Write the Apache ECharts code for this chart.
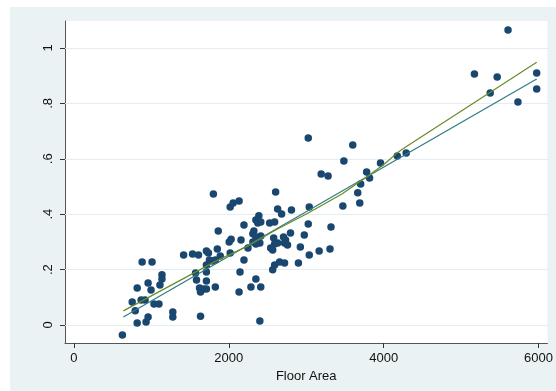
<!DOCTYPE html>
<html><head><meta charset="utf-8">
<script src="https://cdn.jsdelivr.net/npm/echarts@6/dist/echarts.min.js"></script>
<style>html,body{margin:0;padding:0;background:#fff}#c{width:556px;height:391px}</style>
</head><body><div id="c"></div>
<script>
// Scatter: floor area vs value
const floorArea = [626,753,792,817,881,1009,958,996,868,919,817,932,958,1034,1098,1111,1137,1137,1277,1277,
1417,1532,1609,1571,1583,1622,1673,1711,1635,1635,1711,1737,1711,1711,1711,1826,1801,1864,1750,1788,1826,1890,1852,
2018,2056,2133,2005,2030,2158,2196,2145,2196,2133,2248,2286,2350,2413,2401,2018,2324,2311,2350,2413,2311,2401,2350,
2388,2350,2375,2413,2528,2592,2605,2631,2682,2580,2592,2541,2567,2592,2656,2720,2567,2707,2733,2720,2758,2797,2975,
2924,2631,3039,3167,3307,2899,2809,3039,3026,3320,3026,3601,3486,3193,3282,3780,3818,3703,3665,3691,3473,3959,4176,
4291,5172,5466,5376,5606,5734,5976,5976];
const yValue = [-0.036,0.083,0.051,0.134,0.227,0.227,0.152,0.126,0.090,0.090,0.007,0.011,0.029,0.076,0.076,0.144,0.181,0.166,0.047,0.029,
0.253,0.256,0.253,0.188,0.162,0.134,0.130,0.130,0.119,0.032,0.267,0.260,0.217,0.191,0.159,0.137,0.473,0.339,0.235,0.231,0.235,0.249,0.274,
0.426,0.440,0.448,0.300,0.310,0.307,0.361,0.191,0.235,0.119,0.278,0.137,0.166,0.137,0.014,0.260,0.339,0.329,0.318,0.321,0.300,0.296,0.292,
0.394,0.379,0.368,0.372,0.368,0.372,0.480,0.419,0.401,0.314,0.292,0.278,0.271,0.217,0.227,0.224,0.199,0.318,0.307,0.296,0.289,0.332,0.325,
0.282,0.296,0.253,0.267,0.274,0.224,0.415,0.426,0.365,0.354,0.675,0.650,0.592,0.545,0.538,0.552,0.531,0.509,0.477,0.440,0.430,0.585,0.610,
0.621,0.906,0.895,0.838,1.065,0.805,0.910,0.852];
// Linear fit line (teal)
const linFitX = [639, 5976];
const linFitY = [0.029, 0.888];
// Lowess-type fit line (olive)
const smoothFitX = [639,1864,2248,2605,3026,3461,3780,4010,4189,4304,5976];
const smoothFitY = [0.051,0.235,0.285,0.343,0.404,0.473,0.534,0.581,0.625,0.646,0.949];
// Ticks
const xTicks = [0,2000,4000,6000];
const xTickLabels = ['0','2000','4000','6000'];
const yTicks = [0,0.2,0.4,0.6,0.8,1];
const yTickLabels = ['0','.2','.4','.6','.8','1'];
const xTitle = 'Floor Area';

const pts = floorArea.map((x,i)=>[x,yValue[i]]);
const lin = linFitX.map((x,i)=>[x,linFitY[i]]);
const smo = smoothFitX.map((x,i)=>[x,smoothFitY[i]]);
const font = '"Liberation Sans", Arial, sans-serif';
const chart = echarts.init(document.getElementById('c'), null, {renderer:'canvas'});
chart.setOption({
  animation:false,
  backgroundColor:'#fff',
  graphic:[{type:'rect', z:-10, silent:true, shape:{x:10,y:7,width:546,height:384}, style:{fill:'#EAF2F3'}}],
  grid:{left:65, top:21, right:3, bottom:48, show:true, backgroundColor:'#fff', borderWidth:0, containLabel:false},
  xAxis:{type:'value', min:-115, max:6115,
    axisLine:{show:true, onZero:false, lineStyle:{color:'#555', width:1}},
    axisTick:{show:true, length:5, customValues:xTicks, lineStyle:{color:'#333'}},
    axisLabel:{customValues:xTicks, formatter:(v)=>xTickLabels[xTicks.indexOf(v)] ?? '', color:'#111', fontFamily:font, fontSize:13, margin:9},
    splitLine:{show:false},
    name:xTitle, nameLocation:'middle', nameGap:22, nameTextStyle:{color:'#111', fontFamily:font, fontSize:13}},
  yAxis:{type:'value', min:-0.065, max:1.0975,
    axisLine:{show:true, onZero:false, lineStyle:{color:'#555', width:1}},
    axisTick:{show:true, length:5, customValues:yTicks, lineStyle:{color:'#333'}},
    axisLabel:{customValues:yTicks, rotate:90, formatter:(v)=>{const i=yTicks.findIndex(t=>Math.abs(t-v)<1e-9);return i>=0?yTickLabels[i]:'';}, color:'#111', fontFamily:font, fontSize:13, margin:10},
    splitLine:{show:false}},
  series:[
    {type:'scatter', data:[], z:1, silent:true,
     markLine:{z:1, silent:true, symbol:['none','none'], label:{show:false}, animation:false,
       lineStyle:{color:'#E4EEF0', width:1, type:'solid'}, data:yTicks.map(t=>({yAxis:t}))}},
    {type:'scatter', data:pts, symbolSize:7.5, itemStyle:{color:'#1A476F', opacity:1}, z:3},
    {type:'line', data:lin, showSymbol:false, symbol:'none', lineStyle:{color:'#2F7C82', width:1.2}, z:4},
    {type:'line', data:smo, showSymbol:false, symbol:'none', lineStyle:{color:'#6A8A2A', width:1.2}, z:5}
  ]
});
</script></body></html>
